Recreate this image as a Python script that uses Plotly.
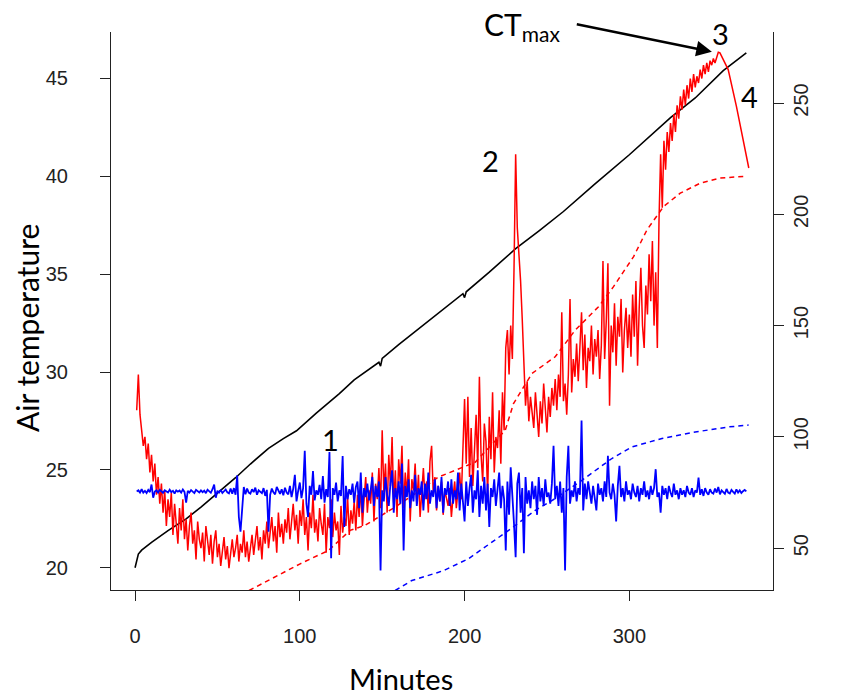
import plotly.graph_objects as go

# ---------------- data ----------------
# Air temperature (left axis), black line
air_minutes = [0, 1, 2, 4, 7, 10, 20, 31, 40, 50, 61, 70, 81, 90, 98, 110, 124, 133, 140, 148, 149, 150,
               160, 175, 190, 199, 200, 201, 215, 231, 245, 260, 279, 300, 325, 340, 357, 371]
air_temp = [20.0, 20.3, 20.7, 20.9, 21.1, 21.3, 21.9, 22.5, 23.1, 23.8, 24.6, 25.3, 26.1, 26.6, 27.0, 27.9,
            28.9, 29.6, 30.0, 30.5, 30.3, 30.7, 31.4, 32.4, 33.4, 34.0, 33.8, 34.1, 35.1, 36.3, 37.2, 38.2,
            39.6, 41.1, 43.0, 44.0, 45.4, 46.3]

# Red noisy series (right axis), one reading per minute from minute 1
red_noisy = [
    112, 128, 110, 104, 96, 100, 90, 97, 84, 92,
    80, 88, 74, 82, 70, 79, 66, 76, 60, 72,
    64, 75, 56, 70, 62, 52, 68, 58, 72, 54,
    63, 49, 60, 66, 52, 58, 45, 62, 54, 50,
    57, 44, 60, 52, 47, 56, 43, 53, 58, 46,
    52, 42, 49, 55, 45, 51, 41, 48, 54, 46,
    50, 56, 44, 52, 48, 58, 46, 53, 44, 50,
    56, 47, 53, 60, 49, 55, 45, 58, 52, 62,
    50, 57, 64, 53, 60, 48, 66, 55, 61, 52,
    63, 57, 68, 54, 62, 70, 58, 65, 52, 67,
    60, 72, 56, 64, 49, 66, 59, 74, 57, 63,
    53, 68, 61, 56, 70, 48, 64, 59, 72, 55,
    66, 58, 62, 47, 69, 57, 64, 60, 73, 56,
    67, 61, 71, 58, 74, 64, 78, 60, 72, 82,
    66, 76, 70, 84, 62, 79, 72, 86, 68, 103,
    75, 88, 66, 92, 78, 100, 70, 85, 64, 90,
    79, 96, 68, 84, 74, 90, 62, 81, 76, 88,
    70, 83, 64, 78, 86, 72, 80, 66, 89, 96,
    74, 82, 67, 78, 71, 80, 65, 76, 72, 69,
    77, 64, 73, 80, 68, 75, 84, 72, 96, 117,
    88, 118, 82, 104, 78, 94, 110, 86, 127, 92,
    80, 106, 98, 74, 109, 90, 120, 84, 100, 95,
    112, 88, 120, 103, 140, 148, 128, 150, 135, 175,
    227, 194, 183, 170, 153, 130, 114, 125, 107, 118,
    110, 104, 120, 108, 100, 116, 106, 124, 112, 102,
    118, 109, 122, 114, 126, 112, 128, 118, 156, 116,
    124, 110, 128, 162, 120, 135, 127, 142, 125, 138,
    156, 130, 146, 122, 140, 134, 150, 128, 144, 136,
    148, 126, 141, 179, 135, 152, 178, 114, 150, 138,
    160, 132, 154, 145, 162, 129, 148, 158, 140, 155,
    136, 164, 145, 170, 132, 158, 176, 150, 140, 168,
    155, 182, 161, 188, 150, 174, 140, 197, 227, 203,
    233, 220, 237, 228, 241, 233, 245, 237, 249, 243,
    253, 247, 256, 249, 258, 252, 261, 255, 263, 257,
    262, 259, 265, 261, 267, 263, 268, 264, 269, 267, 270, 268, 271,
]
# after CTmax the red record is sparse
red_tail_minutes = [354, 355, 360, 365, 371, 372.5]
red_tail_values = [272.8, 272.5, 265, 248.5, 226, 220.8]

# Red dashed series (right axis)
red_dash_minutes = [69.2, 83.0, 100.2, 117.4, 130.5, 139.6, 157.9, 170.0, 184.2, 194.3, 206.4, 224.7,
                    229.7, 240.9, 255.0, 267.2, 281.3, 290.4, 302.6, 310.7, 320.8, 330.9, 343.1, 355.2, 369.3]
red_dash_values = [31.0, 36.3, 43.0, 49.0, 58.0, 60.3, 68.5, 74.5, 82.0, 85.0, 88.6, 103.0,
                   115.0, 128.5, 136.0, 148.0, 158.5, 167.5, 181.0, 193.0, 203.5, 209.5, 214.0, 216.3, 217.0]

# Blue noisy series (right axis), one reading per minute from minute 1
blue_noisy = [
    75.5, 76, 75, 76.5, 75, 75.8, 74.8, 76.2, 75.2, 78.6,
    72.7, 75.5, 76, 75, 76.2, 75.3, 74.9, 76, 75.5, 75,
    76.3, 75.2, 75.8, 74.6, 76, 75.4, 75.9, 75, 76.4, 75.3,
    70.5, 75.8, 75, 76.1, 75.4, 74.8, 76.2, 75.6, 75, 76,
    75.2, 75.9, 74.7, 76.3, 75.5, 74.9, 76.5, 78.6, 72.7, 75.8,
    75, 76.2, 74.8, 75.7, 76.4, 75.1, 74.6, 76.8, 74.5, 77,
    74, 82.7, 64, 57.4, 70, 77.5, 74.2, 76.8, 75, 74.5,
    76.5, 75.2, 77.2, 74, 76, 75.3, 74.7, 77, 73.5, 76.2,
    57.4, 74, 76.8, 75.1, 74.2, 77.5, 75.6, 74.4, 76.5, 73.8,
    77.2, 75, 74.2, 78, 73, 76.8, 83, 71, 75.8, 79.5,
    72.5, 77, 93.8, 70, 64, 78, 74, 84.7, 71.5, 76,
    74, 78.5, 72, 82.4, 70.5, 76.5, 73, 93.2, 45.5, 77,
    74, 79.5, 71, 76, 73.5, 91.4, 59.5, 78, 72, 76.5,
    74, 79, 70.5, 77.5, 80, 68, 84, 66, 77, 73,
    79, 71.5, 76, 82, 69, 78, 73, 80, 40, 76,
    71, 82, 74, 69, 79, 85, 66, 77, 72, 80,
    70, 88, 49, 78, 73, 81, 68, 76, 71, 83,
    69, 77, 74, 80, 67, 79, 72, 84, 70, 76,
    73, 81, 68, 78, 71, 82, 66, 77, 74, 80,
    69, 81, 70, 76, 72, 84, 67, 79, 71, 62,
    80, 69, 77, 83, 66, 76, 72, 85, 64, 78,
    70, 82, 67, 79, 59.5, 77, 73, 81, 69, 76,
    84, 68, 78, 72, 49, 80, 65, 86.4, 70, 61,
    46, 79, 84, 66, 77, 47.7, 82, 70, 76, 68,
    80, 72, 78, 65, 82, 71, 77, 69, 81, 73,
    75, 70, 79, 96, 72, 78, 69, 80, 66, 77,
    40, 82, 96, 70, 76, 73, 80, 71, 77, 74,
    107.4, 67, 79, 72, 80, 74, 70, 78, 73, 67,
    79, 74, 77, 71, 80, 73, 91.5, 75, 72, 79,
    74, 62, 78, 87, 73, 77, 71, 80, 74, 76,
    72, 79, 75, 73, 78, 71, 77, 74, 80, 73,
    76, 72, 78, 74, 77, 85.5, 73, 75, 66, 78,
    74, 77, 72, 78, 75, 73, 79, 74, 76, 72,
    77, 74, 76, 73, 78, 75, 74, 77, 73, 76,
    75, 81.7, 74, 76.5, 73.5, 77, 75, 74, 76.5, 75,
    74.5, 76.8, 75, 77.5, 74.2, 76, 75.2, 74.4, 76.6, 75,
    74.6, 76.2, 75.3, 74.5, 76.4, 75, 76, 74.8, 75.6, 76.2, 75.5,
]

# Blue dashed series (right axis)
blue_dash_minutes = [157.9, 168.0, 184.2, 188.2, 202.4, 212.5, 226.7, 242.9, 255.0, 271.2, 289.4,
                     301.6, 319.8, 340.0, 360.2, 372.4]
blue_dash_values = [31.0, 35.5, 39.2, 40.3, 45.3, 50.5, 58.0, 67.0, 72.3, 80.5, 90.3,
                    95.5, 99.3, 102.2, 104.5, 105.3]

x_ticks = [0, 100, 200, 300]
left_ticks = [20, 25, 30, 35, 40, 45]
right_ticks = [50, 100, 150, 200, 250]

# event labels: (text, minute, air-temperature position)
events = [("1", 118.8, 26.54), ("2", 215.5, 40.82), ("3", 355.2, 47.3), ("4", 373.0, 44.06)]

# ---------------- figure ----------------
red_minutes = list(range(1, len(red_noisy) + 1)) + red_tail_minutes
red_values = red_noisy + red_tail_values
blue_minutes = list(range(1, len(blue_noisy) + 1))

fig = go.Figure()
fig.add_trace(go.Scatter(x=air_minutes, y=air_temp, mode="lines",
                         line=dict(color="black", width=1.6), yaxis="y"))
fig.add_trace(go.Scatter(x=red_minutes, y=red_values, mode="lines",
                         line=dict(color="#ff0000", width=1.5), yaxis="y2"))
fig.add_trace(go.Scatter(x=red_dash_minutes, y=red_dash_values, mode="lines",
                         line=dict(color="#ff0000", width=1.5, dash="5px,4px"), yaxis="y2"))
fig.add_trace(go.Scatter(x=blue_minutes, y=blue_noisy, mode="lines",
                         line=dict(color="#0000ff", width=1.8), yaxis="y2"))
fig.add_trace(go.Scatter(x=blue_dash_minutes, y=blue_dash_values, mode="lines",
                         line=dict(color="#0000ff", width=1.5, dash="5px,4px"), yaxis="y2"))

tickfont = dict(family="Liberation Sans, Arial, sans-serif", size=20, color="#222222")
axis_common = dict(showline=True, linecolor="#222222", linewidth=1.2, ticks="outside",
                   ticklen=10, tickcolor="#222222", tickwidth=1.2, showgrid=False,
                   zeroline=False, tickfont=tickfont)

fig.update_layout(
    width=841, height=696,
    margin=dict(l=111, r=68, t=32, b=106, autoexpand=False),
    paper_bgcolor="white", plot_bgcolor="white",
    showlegend=False,
    xaxis=dict(range=[-14.6, 387.2], tickvals=x_ticks, ticklabelstandoff=18, **axis_common),
    yaxis=dict(range=[18.865, 47.37], tickvals=left_ticks, ticklabelstandoff=28, **axis_common),
    yaxis2=dict(range=[31.23, 281.9], tickvals=right_ticks, overlaying="y", side="right",
                tickangle=-90, ticklabelstandoff=0, **axis_common),
)

ann_font = dict(family="Lato, Carlito, sans-serif", size=29, color="black")
for txt, mx, my in events:
    fig.add_annotation(x=mx, y=my, xref="x", yref="y", text=txt, showarrow=False,
                       font=ann_font, xanchor="center", yanchor="middle")

# CTmax label and arrow
fig.add_annotation(x=(482 - 111) / 662, y=(590 - 26) / 558, xref="paper", yref="paper",
                   text="CT<sub>max</sub>", showarrow=False, xanchor="left", yanchor="middle",
                   font=dict(family="Lato, Carlito, sans-serif", size=30, color="black"))
fig.add_annotation(x=350.1, y=46.36, xref="x", yref="y", ax=267.2, ay=47.78,
                   axref="x", ayref="y", text="", showarrow=True, arrowhead=2,
                   arrowsize=1.3, arrowwidth=2.4, arrowcolor="black")

# axis titles
fig.add_annotation(x=(401 - 111) / 662, y=(590 - 698) / 558, xref="paper", yref="paper",
                   text="Minutes", showarrow=False, xanchor="center", yanchor="bottom",
                   font=dict(family="Lato, Carlito, sans-serif", size=29, color="black"))
fig.add_annotation(x=(27 - 111) / 662, y=(590 - 328) / 558, xref="paper", yref="paper",
                   text="Air temperature", showarrow=False, xanchor="center", yanchor="middle",
                   textangle=-90,
                   font=dict(family="Lato, Carlito, sans-serif", size=30, color="black"))

fig.write_html("out.html", config={"displayModeBar": False},
               post_script="document.body.style.margin='0';document.body.style.padding='0';")
